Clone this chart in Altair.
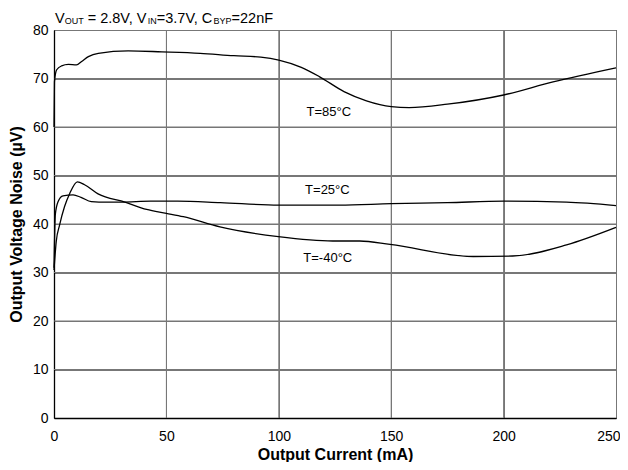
import altair as alt
import pandas as pd

# ---- data ----
x85 = [0, 0.2, 1.2, 3.4, 6.4, 10, 12.3, 15.3, 19.7, 33, 48, 65, 80, 92, 100, 110, 118, 129, 139, 150, 158, 175, 200, 222, 250]
y85 = [60, 69.3, 71.8, 72.6, 72.9, 72.8, 73.5, 74.5, 75.2, 75.7, 75.5, 75.2, 74.7, 74.4, 73.8, 72.3, 70.4, 67.3, 65.4, 64.2, 64.0, 64.7, 66.6, 69.3, 72.2]

x25 = [0, 0.6, 1.8, 4, 8.5, 12, 16.6, 20, 30, 43, 55, 74, 100, 127, 150, 175, 200, 228, 250]
y25 = [31, 42, 44.6, 45.8, 46, 45.5, 44.6, 44.5, 44.5, 44.7, 44.7, 44.4, 43.9, 43.9, 44.2, 44.4, 44.7, 44.5, 43.8]

xm40 = [0, 1, 2.5, 4.7, 7, 10.4, 13.6, 19.6, 31.6, 41.2, 50, 57.5, 73.8, 99.8, 124, 136, 149.5, 186.5, 204, 228, 250]
ym40 = [30.5, 36.4, 39.8, 43.6, 46.3, 48.7, 48.1, 46.2, 44.5, 43, 42.2, 41.5, 39.4, 37.4, 36.5, 36.5, 35.8, 33.3, 33.4, 35.7, 39.3]

label_text = ["T=85°C", "T=25°C", "T=-40°C"]
label_x = [112.3, 111.7, 110.9]
label_y = [63.1, 47.0, 33.0]

x_ticks = [0, 50, 100, 150, 200, 250]
y_ticks = [0, 10, 20, 30, 40, 50, 60, 70, 80]

FONT = "Liberation Sans"

rows = []
for name, xs, ys in [("85", x85, y85), ("25", x25, y25), ("-40", xm40, ym40)]:
    for i, (a, b) in enumerate(zip(xs, ys)):
        rows.append({"series": name, "order": i, "x": a, "y": b})
df = pd.DataFrame(rows)
lab = pd.DataFrame({"text": label_text, "x": label_x, "y": label_y})

xscale = alt.Scale(domain=[0, 250], nice=False, zero=False)
yscale = alt.Scale(domain=[0, 80], nice=False)

GRID = "#777777"

xaxis = alt.Axis(values=x_ticks, title="Output Current (mA)", ticks=False,
                 labelFlush=True, labelFlushOffset=4,
                 labelPadding=11, titlePadding=16, titleBaseline="alphabetic",
                 grid=True, gridColor=GRID, gridWidth=1, gridOpacity=1)
yaxis = alt.Axis(values=y_ticks, title="Output Voltage Noise (µV)", ticks=False, labelFlush=False,
                 labelPadding=6, titlePadding=8,
                 grid=True, gridColor=GRID, gridWidth=1, gridOpacity=1)

vgrid = alt.Chart(pd.DataFrame({"gx": x_ticks[1:-1]})).mark_rule(
    color=GRID, strokeWidth=1, opacity=1).encode(
    x=alt.X("gx:Q", scale=xscale, axis=xaxis))
hgrid = alt.Chart(pd.DataFrame({"gy": y_ticks[1:-1]})).mark_rule(
    color=GRID, strokeWidth=1, opacity=1).encode(
    y=alt.Y("gy:Q", scale=yscale, axis=yaxis))

lines = alt.Chart(df).mark_line(color="black", strokeWidth=1.3, interpolate="monotone").encode(
    x=alt.X("x:Q", scale=xscale, axis=xaxis),
    y=alt.Y("y:Q", scale=yscale, axis=yaxis),
    detail="series:N",
    order="order:Q",
)

labels = alt.Chart(lab).mark_text(align="left", baseline="middle", font=FONT,
                                  fontSize=13, color="black").encode(
    x=alt.X("x:Q", scale=xscale, axis=xaxis),
    y=alt.Y("y:Q", scale=yscale, axis=yaxis),
    text="text:N",
)

# title pieces with subscripts (plot-area pixel coordinates)
main_fs = 14.5
sub_fs = 9
SPACE = 0.278
pieces = [
    ("V", main_fs, 0, 0.667, 0),
    ("OUT", sub_fs, 1, 2.111, 0),
    ("= 2.8V, V", main_fs, 0, 4.142, SPACE),
    ("IN", sub_fs, 1, 1.0, 0),
    ("=3.7V, C", main_fs, 0, 3.919, 0),
    ("BYP", sub_fs, 1, 2.0, 0),
    ("=22nF", main_fs, 0, 2.751, 0),
]
title_layers = []
xpos = 1.0
for txt, fs, sub, w, lead in pieces:
    xpos += lead * fs
    t = alt.Chart(pd.DataFrame({"t": [txt]})).mark_text(
        align="left", baseline="alphabetic", font=FONT, fontSize=fs, color="black"
    ).encode(x=alt.value(xpos), y=alt.value(-7.3 + (0.8 if sub else 0)), text="t:N")
    title_layers.append(t)
    xpos += w * fs

chart = alt.layer(vgrid, hgrid, lines, labels, *title_layers).properties(
    width=562, height=388,
    autosize=alt.AutoSizeParams(type="none"),
    padding={"left": 46, "top": 22, "right": 4, "bottom": 44},
).configure_view(stroke="black", strokeWidth=1).configure_axis(
    labelFont=FONT, labelFontSize=14, labelColor="black",
    titleFont=FONT, titleFontSize=16, titleFontWeight="bold", titleColor="black",
    domainColor="black", domainWidth=1.3,
)

chart.save("out.html", embed_options={"renderer": "svg", "actions": False})
